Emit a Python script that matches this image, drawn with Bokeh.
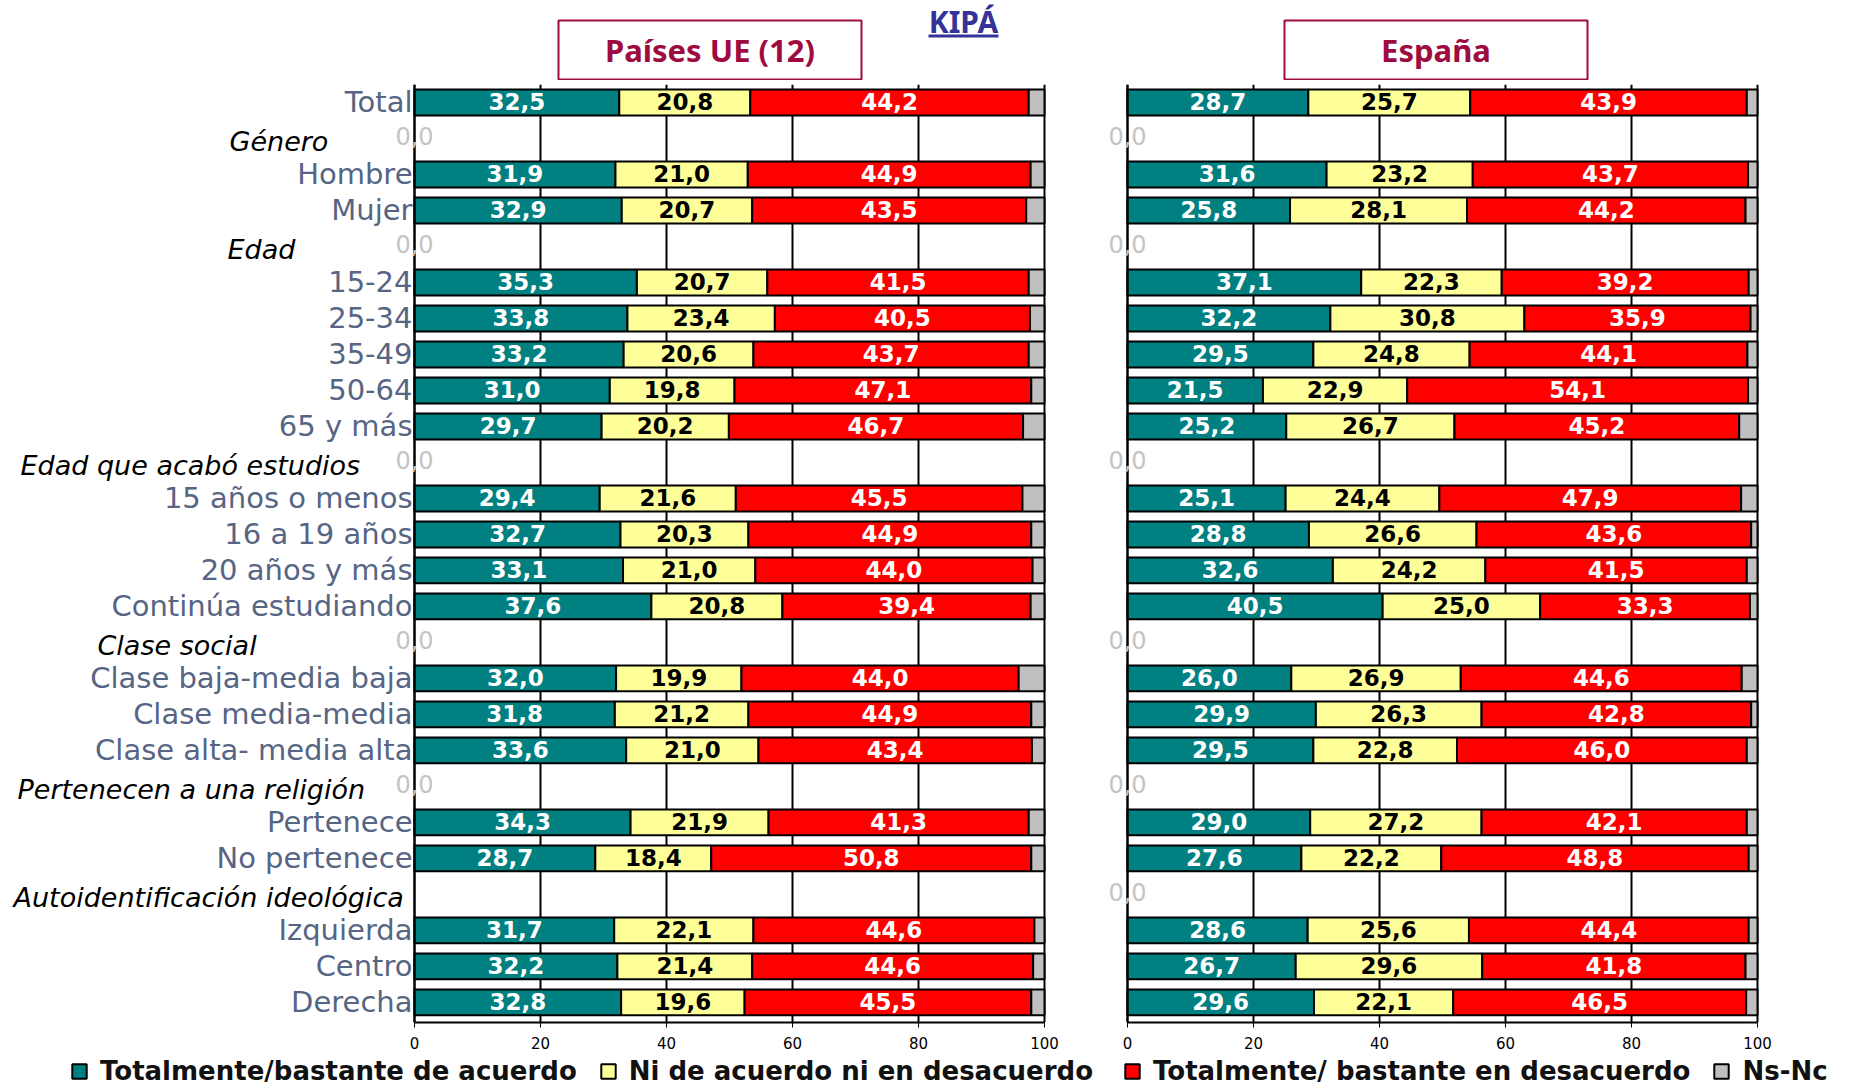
from bokeh.plotting import figure
from bokeh.models import (Range1d, FixedTicker, Label, Legend, LegendItem,
                          ColumnDataSource)
from bokeh.layouts import column, row
from bokeh.embed import file_html
from bokeh.resources import INLINE
from bokeh.core.properties import value
import numpy as np

# ---------------- data ----------------
rows = ["Total", "Género", "Hombre", "Mujer", "Edad", "15-24", "25-34", "35-49",
        "50-64", "65 y más", "Edad que acabó estudios", "15 años o menos",
        "16 a 19 años", "20 años y más", "Continúa estudiando", "Clase social",
        "Clase baja-media baja", "Clase media-media", "Clase alta- media alta",
        "Pertenecen a una religión", "Pertenece", "No pertenece",
        "Autoidentificación ideológica", "Izquierda", "Centro", "Derecha"]

headers = ["Género", "Edad", "Edad que acabó estudios", "Clase social",
           "Pertenecen a una religión", "Autoidentificación ideológica"]

cats = [r for r in rows if r not in headers]

series = ["Totalmente/bastante de acuerdo", "Ni de acuerdo ni en desacuerdo",
          "Totalmente/ bastante en desacuerdo", "Ns-Nc"]

ue_acuerdo = [32.5, 31.9, 32.9, 35.3, 33.8, 33.2, 31.0, 29.7, 29.4, 32.7,
              33.1, 37.6, 32.0, 31.8, 33.6, 34.3, 28.7, 31.7, 32.2, 32.8]
ue_ni = [20.8, 21.0, 20.7, 20.7, 23.4, 20.6, 19.8, 20.2, 21.6, 20.3,
         21.0, 20.8, 19.9, 21.2, 21.0, 21.9, 18.4, 22.1, 21.4, 19.6]
ue_desacuerdo = [44.2, 44.9, 43.5, 41.5, 40.5, 43.7, 47.1, 46.7, 45.5, 44.9,
                 44.0, 39.4, 44.0, 44.9, 43.4, 41.3, 50.8, 44.6, 44.6, 45.5]
ue_nsnc = [2.5, 2.2, 2.9, 2.5, 2.3, 2.5, 2.1, 3.4, 3.5, 2.1,
           1.9, 2.2, 4.1, 2.1, 2.0, 2.5, 2.1, 1.6, 1.8, 2.1]

es_acuerdo = [28.7, 31.6, 25.8, 37.1, 32.2, 29.5, 21.5, 25.2, 25.1, 28.8,
              32.6, 40.5, 26.0, 29.9, 29.5, 29.0, 27.6, 28.6, 26.7, 29.6]
es_ni = [25.7, 23.2, 28.1, 22.3, 30.8, 24.8, 22.9, 26.7, 24.4, 26.6,
         24.2, 25.0, 26.9, 26.3, 22.8, 27.2, 22.2, 25.6, 29.6, 22.1]
es_desacuerdo = [43.9, 43.7, 44.2, 39.2, 35.9, 44.1, 54.1, 45.2, 47.9, 43.6,
                 41.5, 33.3, 44.6, 42.8, 46.0, 42.1, 48.8, 44.4, 41.8, 46.5]
es_nsnc = [1.7, 1.5, 1.9, 1.4, 1.1, 1.6, 1.5, 2.9, 2.6, 1.0,
           1.7, 1.2, 2.5, 1.0, 1.7, 1.7, 1.4, 1.4, 1.9, 1.8]

# header rows that carry a zero-valued "0,0" data label, per panel
ue_header_zero = ["Género", "Edad", "Edad que acabó estudios", "Clase social",
                  "Pertenecen a una religión"]
es_header_zero = ["Género", "Edad", "Edad que acabó estudios", "Clase social",
                  "Pertenecen a una religión", "Autoidentificación ideológica"]

panel_titles = ["Países UE (12)", "España"]
subject = "KIPÁ"
x_ticks = [0, 20, 40, 60, 80, 100]

# ---------------- style ----------------
colors = ["#008080", "#FFFF99", "#FF0000", "#C0C0C0"]
text_colors = ["white", "black", "white", None]
FONT = "DejaVu Sans"
TFONT = "Noto Sans"
LABEL_COLOR = "#566584"
TITLE_COLOR = "#9E0B3E"
PX = 6.3  # pixels per percentage point
n = len(rows)
ypos = {r: (n - 1 - i) for i, r in enumerate(rows)}
header_offset = {"Género": -185, "Edad": -187, "Edad que acabó estudios": -394,
                 "Clase social": -317, "Pertenecen a una religión": -397,
                 "Autoidentificación ideológica": -401}


def make_panel(vals, zero_rows, frame_w, left_px, show_labels):
    x0 = -left_px / PX
    p = figure(frame_width=frame_w, frame_height=938,
               min_border_left=0, min_border_right=0,
               min_border_top=4, min_border_bottom=33,
               x_range=Range1d(x0, x0 + frame_w / PX),
               y_range=Range1d(-0.56, n - 0.5),
               output_backend="svg", toolbar_location=None,
               background_fill_color="white", border_fill_color="white")
    p.outline_line_color = None
    p.ygrid.visible = False
    p.xgrid.ticker = FixedTicker(ticks=x_ticks)
    p.xgrid.grid_line_color = "black"
    p.xgrid.grid_line_width = 2
    xa = p.xaxis[0]
    xa.ticker = FixedTicker(ticks=x_ticks)
    xa.bounds = (0, 100)
    xa.axis_line_color = "black"
    xa.axis_line_width = 2
    xa.major_tick_line_color = "black"
    xa.major_tick_line_width = 1
    xa.major_tick_in = 0
    xa.major_tick_out = 5
    xa.minor_tick_line_color = None
    xa.major_label_text_font = FONT
    xa.major_label_text_font_size = "15px"
    xa.major_label_text_color = "black"
    xa.major_label_standoff = 9

    ya = p.yaxis[0]
    ya.fixed_location = 0
    ya.axis_line_color = "black"
    ya.axis_line_width = 2
    ya.major_tick_line_color = None
    ya.minor_tick_line_color = None
    ya.major_tick_out = 0
    ya.major_tick_in = 0
    if show_labels:
        ya.ticker = FixedTicker(ticks=[ypos[c] for c in cats])
        ya.major_label_overrides = {ypos[c]: c for c in cats}
        ya.major_label_text_font = FONT
        ya.major_label_text_font_size = "29px"
        ya.major_label_text_color = LABEL_COLOR
        ya.major_label_standoff = 2
    else:
        ya.ticker = FixedTicker(ticks=[])

    arr = np.array(vals)
    right = np.cumsum(arr, axis=0)
    left = right - arr
    y = [ypos[c] for c in cats]
    for k in range(4):
        src = ColumnDataSource(dict(
            y=y, left=left[k], right=right[k], mid=(left[k] + right[k]) / 2,
            lbl=[("%.1f" % v).replace(".", ",") for v in arr[k]]))
        p.hbar(y="y", left="left", right="right", height=0.72, source=src,
               fill_color=colors[k], line_color="black", line_width=2)
        if text_colors[k]:
            p.text(x="mid", y="y", text="lbl", source=src,
                   text_align="center", text_baseline="middle",
                   text_color=text_colors[k], text_font=value(FONT),
                   text_font_size="23px", text_font_style="bold", y_offset=-1)

    for h in headers:
        if show_labels:
            p.add_layout(Label(x=0, y=ypos[h], x_offset=header_offset[h],
                               y_offset=-3, text=h, text_font=FONT,
                               text_font_size="27px", text_font_style="italic",
                               text_color="black", text_align="left",
                               text_baseline="middle"))
        if h in zero_rows:
            p.add_layout(Label(x=0, y=ypos[h], y_offset=2, text="0,0",
                               text_font=FONT, text_font_size="24px",
                               text_color="#C4C4C4", text_align="center",
                               text_baseline="middle"))
    return p


ue_vals = [ue_acuerdo, ue_ni, ue_desacuerdo, ue_nsnc]
es_vals = [es_acuerdo, es_ni, es_desacuerdo, es_nsnc]

# left panel frame spans page x 0..1090 (axis at 414), right 1090..1844 (axis at 1127)
p1 = make_panel(ue_vals, ue_header_zero, 1090, 414, True)
p2 = make_panel(es_vals, es_header_zero, 754, 37, False)

# ---------------- header strip (panel titles) ----------------
ph = figure(width=1844, height=80, x_range=Range1d(0, 1844),
            y_range=Range1d(80, 0), x_axis_type=None, y_axis_type=None,
            min_border=0, output_backend="svg", toolbar_location=None)
ph.outline_line_color = None
ph.grid.visible = False
box_src = ColumnDataSource(dict(x=[709.5, 1435.5], y=[49.5, 49.5],
                                t=panel_titles))
ph.rect(x="x", y="y", width=303, height=59, source=box_src,
        fill_color="white", line_color=TITLE_COLOR, line_width=2)
ph.text(x="x", y="y", text="t", source=box_src, text_align="center",
        text_baseline="middle", text_color=TITLE_COLOR,
        text_font=value(TFONT), text_font_size="31px", text_font_style="bold")
ph.text(x=[963], y=[21], text=[subject], text_align="center",
        text_baseline="middle", text_color="#333399",
        text_font=value(TFONT), text_font_size="30px", text_font_style="bold")
ph.rect(x=[963], y=[35.5], width=70, height=3, fill_color="#333399",
        line_color=None)

# ---------------- legend strip ----------------
pl = figure(width=1844, height=31, x_range=Range1d(0, 1), y_range=Range1d(0, 1),
            x_axis_type=None, y_axis_type=None, min_border=0,
            output_backend="svg", toolbar_location=None)
pl.outline_line_color = None
pl.grid.visible = False
lrs = []
for k in range(4):
    # swatch-only renderers: a zero-size bar that draws nothing itself
    lrs.append(pl.hbar(y=[0.5], left=[0.5], right=[0.5], height=0,
                       fill_color=colors[k], line_color="black", line_width=2))


def mk_legend(idx, loc):
    return Legend(items=[LegendItem(label=series[k], renderers=[lrs[k]])
                         for k in idx],
                  location=loc, orientation="horizontal",
                  label_text_font=FONT, label_text_font_size="26px",
                  label_text_font_style="bold", label_text_color="#111111",
                  label_height=18,
                  glyph_width=18, glyph_height=18, label_standoff=12,
                  spacing=22, padding=0, margin=0, border_line_color=None,
                  background_fill_alpha=0)


pl.add_layout(mk_legend([0, 1], (70, 0)))
pl.add_layout(mk_legend([2, 3], (1123, 0)))

layout = column(ph, row(p1, p2, spacing=0), pl, spacing=0)
open("out.html", "w").write(file_html(layout, INLINE))
